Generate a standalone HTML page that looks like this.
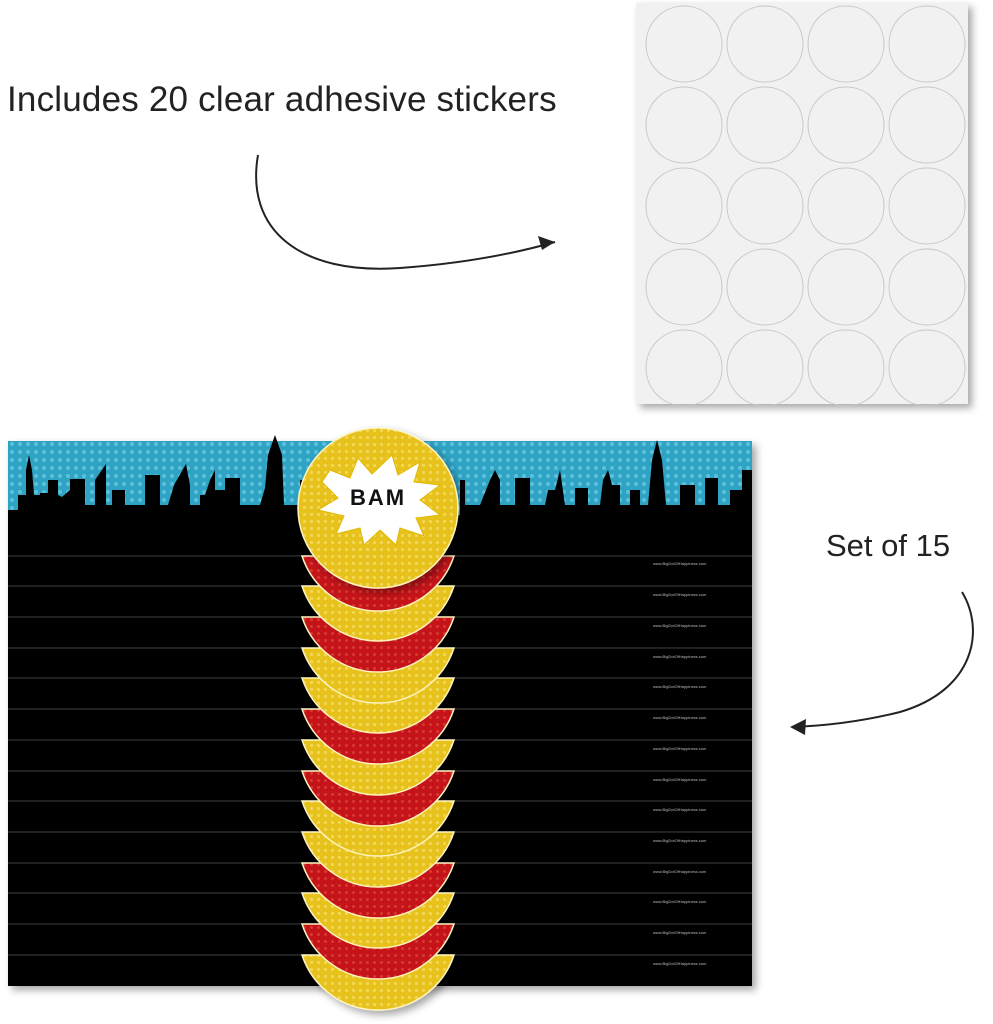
<!DOCTYPE html>
<html><head><style>
html,body{margin:0;padding:0;background:#fff;width:993px;height:1024px;overflow:hidden}
.t{position:absolute;font-family:"Liberation Sans",sans-serif;color:#222;white-space:nowrap}
</style></head><body>
<div class="t" style="left:7px;top:80px;font-size:35px;letter-spacing:0.2px">Includes 20 clear adhesive stickers</div>
<div class="t" style="left:826px;top:528px;font-size:31px">Set of 15</div>
<svg width="993" height="1024" style="position:absolute;left:0;top:0">
<defs>
<filter id="sh" x="-10%" y="-10%" width="130%" height="130%"><feDropShadow dx="4" dy="4" stdDeviation="4" flood-opacity="0.35"/></filter>
<pattern id="dots" width="8" height="8" patternUnits="userSpaceOnUse"><rect width="8" height="8" fill="#2ea3c4"/><circle cx="4" cy="4" r="2" fill="#5cc0dc"/></pattern>
<pattern id="yd" width="7" height="7" patternUnits="userSpaceOnUse"><rect width="7" height="7" fill="#e8c21c"/><circle cx="3.5" cy="3.5" r="1.6" fill="#f2d655"/></pattern>
<pattern id="rd" width="7" height="7" patternUnits="userSpaceOnUse"><rect width="7" height="7" fill="#c4141a"/><circle cx="3.5" cy="3.5" r="1.5" fill="#d63a30"/></pattern>
</defs>
<rect x="636" y="3" width="332" height="401" fill="#f1f1f1" filter="url(#sh)"/>
<g fill="none" stroke="#c8c8c8" stroke-width="1">
<g id="row"><circle cx="684" cy="44" r="38"/><circle cx="765" cy="44" r="38"/><circle cx="846" cy="44" r="38"/><circle cx="927" cy="44" r="38"/></g>
<use href="#row" y="81"/><use href="#row" y="162"/><use href="#row" y="243"/><use href="#row" y="324"/>
</g>
<g fill="none" stroke="#222" stroke-width="2">
<path d="M258 155 C245 230 300 275 400 268 C470 263 520 252 555 242"/>
<path d="M962 592 C985 630 975 690 900 712 C860 722 820 726 792 727"/>
</g>
<path d="M555 242 L538 236 L542 250 Z" fill="#222"/>
<path d="M790 727 L806 719 L805 735 Z" fill="#222"/>
<rect x="8" y="441" width="744" height="545" fill="#000" filter="url(#sh)"/>
<rect x="8" y="441" width="744" height="76" fill="url(#dots)"/>
<path fill="#000" d="M8 510 L18 510 L18 495 L26 495 L26 470 L29 455 L32 470 L34 495 L40 495 L40 493 L48 493 L48 480 L58 480 L58 495 L62 497 L70 490 L70 479 L85 479 L85 505 L95 505 L95 480 L106 464 L106 505 L112 505 L112 490 L125 490 L125 505 L145 505 L145 475 L160 475 L160 505 L168 505 L174 485 L186 464 L190 485 L190 505 L200 505 L200 495 L205 495 L210 480 L215 470 L215 490 L225 490 L225 478 L240 478 L240 505 L260 505 L265 488 L268 455 L275 435 L282 455 L284 505 L300 505 L300 480 L310 480 L310 515 L460 515 L460 480 L465 480 L465 505 L480 505 L490 480 L495 470 L500 480 L500 505 L515 505 L515 478 L530 478 L530 505 L545 505 L548 490 L555 490 L560 470 L565 505 L575 505 L575 488 L588 488 L588 505 L600 505 L603 480 L608 470 L612 485 L620 485 L620 505 L630 505 L630 490 L640 490 L640 505 L648 505 L652 460 L657 440 L662 460 L666 505 L680 505 L680 485 L695 485 L695 505 L705 505 L705 478 L718 478 L718 505 L730 505 L730 490 L742 490 L742 470 L752 470 L752 540 L8 540 Z"/>
<g stroke="#333" stroke-width="1.2">
<line x1="8" y1="556" x2="752" y2="556"/><line x1="8" y1="586" x2="752" y2="586"/><line x1="8" y1="617" x2="752" y2="617"/><line x1="8" y1="648" x2="752" y2="648"/><line x1="8" y1="678" x2="752" y2="678"/><line x1="8" y1="709" x2="752" y2="709"/><line x1="8" y1="740" x2="752" y2="740"/><line x1="8" y1="771" x2="752" y2="771"/><line x1="8" y1="801" x2="752" y2="801"/><line x1="8" y1="832" x2="752" y2="832"/><line x1="8" y1="863" x2="752" y2="863"/><line x1="8" y1="893" x2="752" y2="893"/><line x1="8" y1="924" x2="752" y2="924"/><line x1="8" y1="955" x2="752" y2="955"/>
</g>
<g fill="#bbb" font-family="Liberation Sans" font-size="4">
<text x="653" y="565">www.BigDotOfHappiness.com</text><text x="653" y="596">www.BigDotOfHappiness.com</text><text x="653" y="627">www.BigDotOfHappiness.com</text><text x="653" y="658">www.BigDotOfHappiness.com</text><text x="653" y="688">www.BigDotOfHappiness.com</text><text x="653" y="719">www.BigDotOfHappiness.com</text><text x="653" y="750">www.BigDotOfHappiness.com</text><text x="653" y="781">www.BigDotOfHappiness.com</text><text x="653" y="811">www.BigDotOfHappiness.com</text><text x="653" y="842">www.BigDotOfHappiness.com</text><text x="653" y="873">www.BigDotOfHappiness.com</text><text x="653" y="903">www.BigDotOfHappiness.com</text><text x="653" y="934">www.BigDotOfHappiness.com</text><text x="653" y="965">www.BigDotOfHappiness.com</text>
</g>
<g stroke="#fff4c0" stroke-width="1.5">
<path d="M302 955 L454 955 A80 80 0 0 1 302 955 Z" fill="url(#yd)" filter="url(#sh)"/>
<path d="M302 924 L454 924 A80 80 0 0 1 302 924 Z" fill="url(#rd)"/>
<path d="M302 893 L454 893 A80 80 0 0 1 302 893 Z" fill="url(#yd)"/>
<path d="M302 863 L454 863 A80 80 0 0 1 302 863 Z" fill="url(#rd)"/>
<path d="M302 832 L454 832 A80 80 0 0 1 302 832 Z" fill="url(#yd)"/>
<path d="M302 801 L454 801 A80 80 0 0 1 302 801 Z" fill="url(#yd)"/>
<path d="M302 771 L454 771 A80 80 0 0 1 302 771 Z" fill="url(#rd)"/>
<path d="M302 740 L454 740 A80 80 0 0 1 302 740 Z" fill="url(#yd)"/>
<path d="M302 709 L454 709 A80 80 0 0 1 302 709 Z" fill="url(#rd)"/>
<path d="M302 678 L454 678 A80 80 0 0 1 302 678 Z" fill="url(#yd)"/>
<path d="M302 648 L454 648 A80 80 0 0 1 302 648 Z" fill="url(#yd)"/>
<path d="M302 617 L454 617 A80 80 0 0 1 302 617 Z" fill="url(#rd)"/>
<path d="M302 586 L454 586 A80 80 0 0 1 302 586 Z" fill="url(#yd)"/>
<path d="M302 556 L454 556 A80 80 0 0 1 302 556 Z" fill="url(#rd)"/>
</g>
<circle cx="378" cy="508" r="80" fill="url(#yd)" stroke="#fff4c0" stroke-width="1.5" filter="url(#sh)"/>
<path fill="#fff" stroke="#e0b800" stroke-width="1" d="M330 470 L350 478 L358 458 L372 474 L392 455 L398 475 L420 462 L414 482 L440 485 L420 500 L440 515 L416 518 L424 536 L400 528 L396 545 L380 530 L364 545 L360 528 L336 534 L344 516 L318 510 L338 498 L322 482 Z"/>
<text x="378" y="505" text-anchor="middle" font-family="Liberation Sans" font-weight="bold" font-size="22" fill="#111" letter-spacing="2">BAM</text>
</svg>
</body></html>
